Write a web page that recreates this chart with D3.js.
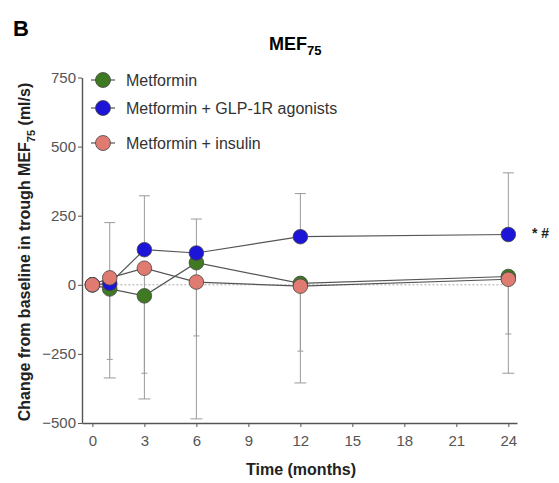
<!DOCTYPE html>
<html>
<head>
<meta charset="utf-8">
<script src="https://cdn.jsdelivr.net/npm/d3@7"></script>
<style>
  body { margin: 0; background: #fff; }
  svg { font-family: "Liberation Sans", Arial, sans-serif; }
</style>
</head>
<body>
<div id="chart"></div>
<script>
// data
const months = [0, 1, 3, 6, 12, 24];
const seriesNames = ["Metformin", "Metformin + GLP-1R agonists", "Metformin + insulin"];
const seriesColours = ["#3f7a22", "#1c14d6", "#e07b72"];
const metformin = [0, -15, -40, 80, 5, 30];
const metforminGlp = [0, 5, 127, 115, 174, 182];
const metforminInsulin = [0, 25, 60, 10, -5, 20];
// whisker ends (null = no error bar)
const glpUpper = [null, 225, 322, 238, 330, 405];
const metforminLower = [null, -337, -413, -485, -355, -320];
const insulinLower = [null, -270, -320, -185, -240, -178];
const xTicks = [0, 3, 6, 9, 12, 15, 18, 21, 24];
const yTicks = [-500, -250, 0, 250, 500, 750];

const width = 559;
const height = 483;

const svg = d3.select("#chart")
  .append("svg")
    .attr("width", width)
    .attr("height", height);

const xScale = d3.scaleLinear()
  .domain([-0.6, 24.5])
  .range([82, 517]);

const yScale = d3.scaleLinear()
  .domain([-500, 750])
  .range([423, 77.5]);

// panel letter and title
svg.append("text")
  .attr("x", 13).attr("y", 36)
  .attr("font-size", 22).attr("font-weight", "bold")
  .text("B");

const title = svg.append("text")
  .attr("x", 269).attr("y", 50)
  .attr("font-size", 18).attr("font-weight", "bold");
title.append("tspan").text("MEF");
title.append("tspan").attr("dy", 5).attr("font-size", 13).text("75");

// zero reference line
svg.append("line")
  .attr("x1", xScale(0)).attr("x2", xScale(24))
  .attr("y1", yScale(0)).attr("y2", yScale(0))
  .attr("stroke", "#aaa")
  .attr("stroke-dasharray", "2,2");

// error bars
const errGroup = svg.append("g")
  .attr("stroke", "#9a9a9a")
  .attr("stroke-width", 1);

const drawBars = (means, ends, capW) => {
  months.forEach((m, i) => {
    if (ends[i] === null) return;
    const x = xScale(m);
    errGroup.append("line")
      .attr("x1", x).attr("x2", x)
      .attr("y1", yScale(means[i])).attr("y2", yScale(ends[i]));
    errGroup.append("line")
      .attr("x1", x - capW / 2).attr("x2", x + capW / 2)
      .attr("y1", yScale(ends[i])).attr("y2", yScale(ends[i]));
  });
};
drawBars(metforminGlp, glpUpper, 11);
drawBars(metformin, metforminLower, 12);
drawBars(metforminInsulin, insulinLower, 6);

// axes
const yAxis = d3.axisLeft(yScale)
  .tickValues(yTicks)
  .tickSize(4)
  .tickSizeOuter(0);

const yAxisG = svg.append("g")
  .attr("transform", `translate(82, 0)`)
  .call(yAxis);

const xAxis = d3.axisBottom(xScale)
  .tickValues(xTicks)
  .tickSize(4)
  .tickSizeOuter(0);

const xAxisG = svg.append("g")
  .attr("transform", `translate(0, 423)`)
  .call(xAxis);

[yAxisG, xAxisG].forEach(g => {
  g.select(".domain").attr("stroke", "#555").attr("stroke-width", 1.4);
  g.selectAll(".tick line").attr("stroke", "#555");
  g.selectAll(".tick text")
    .attr("fill", "#555")
    .attr("font-size", 15)
    .attr("font-family", "Liberation Sans, Arial, sans-serif");
});
xAxisG.selectAll(".tick text").attr("y", 12);
yAxisG.selectAll(".tick text").attr("x", -6);

// axis titles
svg.append("text")
  .attr("x", 301).attr("y", 475)
  .attr("text-anchor", "middle")
  .attr("font-size", 16).attr("font-weight", "bold")
  .attr("fill", "#222")
  .text("Time (months)");

const yTitle = svg.append("text")
  .attr("transform", `translate(30, 252) rotate(-90)`)
  .attr("text-anchor", "middle")
  .attr("font-size", 16).attr("font-weight", "bold")
  .attr("fill", "#222");
yTitle.append("tspan").text("Change from baseline in trough MEF");
yTitle.append("tspan").attr("dy", 5).attr("font-size", 11).text("75");
yTitle.append("tspan").attr("dy", -5).text(" (ml/s)");

// lines and markers
const allSeries = [metformin, metforminGlp, metforminInsulin];
const line = d3.line()
  .x((d, i) => xScale(months[i]))
  .y(d => yScale(d));

allSeries.forEach(values => {
  svg.append("path")
    .datum(values)
    .attr("d", line)
    .attr("fill", "none")
    .attr("stroke", "#555")
    .attr("stroke-width", 1.2);
});

allSeries.forEach((values, s) => {
  svg.append("g")
    .selectAll("circle")
    .data(values)
    .join("circle")
      .attr("cx", (d, i) => xScale(months[i]))
      .attr("cy", d => yScale(d))
      .attr("r", 7.3)
      .attr("fill", seriesColours[s])
      .attr("stroke", "#444")
      .attr("stroke-width", 0.8);
});

// significance marks
svg.append("text")
  .attr("x", 532).attr("y", 238)
  .attr("font-size", 14).attr("font-weight", "bold")
  .attr("fill", "#222")
  .text("* #");

// legend
const legend = svg.append("g")
  .selectAll("g")
  .data(seriesNames)
  .join("g")
    .attr("transform", (d, i) => `translate(103, ${[80, 108, 143][i]})`);

legend.append("line")
  .attr("x1", -12).attr("x2", 12)
  .attr("stroke", "#555").attr("stroke-width", 1.2);
legend.append("circle")
  .attr("r", 7.5)
  .attr("fill", (d, i) => seriesColours[i])
  .attr("stroke", "#444").attr("stroke-width", 0.8);
legend.append("text")
  .attr("x", 23).attr("dy", "0.35em")
  .attr("font-size", 16)
  .attr("fill", "#333")
  .text(d => d);
</script>
</body>
</html>
